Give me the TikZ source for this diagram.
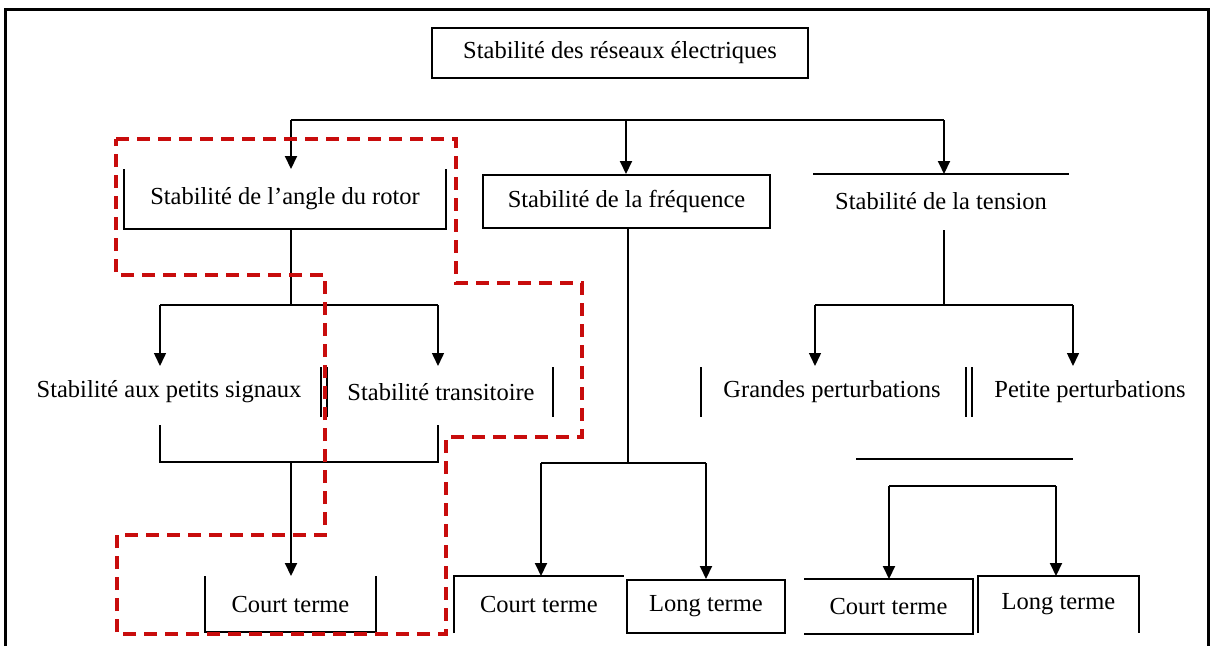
\documentclass[tikz,border=0pt]{standalone}
\usepackage{fontspec}
\setmainfont{Liberation Serif}
\usetikzlibrary{arrows.meta}
\definecolor{zonered}{RGB}{200,12,12}
\begin{document}
\begin{tikzpicture}[x=1pt,y=-1pt,line width=2pt,
  txt/.style={font=\fontsize{24.5}{28}\selectfont},
  box/.style={rectangle,inner sep=0pt,txt},
  lab/.style={rectangle,inner sep=0pt,minimum height=50pt,txt},
  arr/.style={-{Triangle[width=12pt,length=13pt]}},
  thinarr/.style={line width=1.5pt,-{Triangle[width=12pt,length=13pt]}},
  zone/.style={draw=zonered,line width=3.5pt,dash pattern=on 13pt off 8pt}]
\useasboundingbox (0,0) rectangle (1213,646);
\fill[white] (0,0) rectangle (1213,646);

% outer frame, open at the bottom
\draw[line width=3pt] (5,646) -- (5,9) -- (1208,9) -- (1208,646);

% level 0
\node[box,draw,line width=2.5pt,minimum width=376,minimum height=50] (top) at (620,53) {Stabilité des réseaux électriques};

% level 1
\node[box,minimum width=320,minimum height=58] (angle) at (285,199) {Stabilité de l'angle du rotor};
\draw (angle.north west) -- (angle.south west) -- (angle.south east) -- (angle.north east);
\node[box,draw,minimum width=287,minimum height=53] (freq) at (626.5,201.5) {Stabilité de la fréquence};
\node[box,minimum width=254,minimum height=52] (tension) at (941,201) {Stabilité de la tension};
\draw (tension.north west) -- (tension.north east);

% level 2
\node[lab] (petits) at (169,392) {Stabilité aux petits signaux};
\node[lab] (trans) at (441,392) {Stabilité transitoire};
\node[lab] (grandes) at (832,392) {Grandes perturbations};
\node[lab] (petite) at (1090,392) {Petite perturbations};
\draw (320.5,367) -- (320.5,417);
\draw (327,367) -- (327,417);
\draw (553,367) -- (553,417);
\draw (701,367) -- (701,417);
\draw (966,367) -- (966,417);
\draw (972,367) -- (972,417);

% level 3
\node[box,minimum width=169,minimum height=54] (ct1) at (290.5,604) {Court terme};
\draw (ct1.north west) -- (ct1.south west) -- (ct1.south east) -- (ct1.north east);
\node[box,minimum width=168,minimum height=55] (ct2) at (539,604.5) {Court terme};
\draw (ct2.south west) -- (ct2.north west) -- (ct2.north east);
\node[box,draw,minimum width=158,minimum height=53] (lt2) at (706,606.5) {Long terme};
\node[box,minimum width=167,minimum height=53] (ct3) at (888.5,606.5) {Court terme};
\draw (ct3.north west) -- (ct3.north east) -- (ct3.south east) -- (ct3.south west);
\node[box,minimum width=159,minimum height=55] (lt3) at (1058.5,604.5) {Long terme};
\draw (lt3.south west) -- (lt3.north west) -- (lt3.north east) -- (lt3.south east);

% top bus
\coordinate (busL) at (291,120);
\coordinate (busM) at (626,120);
\coordinate (busR) at (944,120);
\draw (busL) -- (busR);
\draw[arr] (busL) -- (busL |- angle.north);
\draw[arr] (busM) -- (busM |- freq.north);
\draw[arr] (busR) -- (busR |- tension.north);

% rotor angle branch
\coordinate (aF) at (291,305);
\coordinate (aL) at (160,305);
\coordinate (aR) at (438,305);
\draw (busL |- angle.south) -- (aF);
\draw (aL) -- (aR);
\draw[thinarr] (aL) -- (aL |- petits.north);
\draw[thinarr] (aR) -- (aR |- trans.north);
\coordinate (pL) at (160,425);
\coordinate (pR) at (438,425);
\coordinate (mL) at (160,462);
\coordinate (mR) at (438,462);
\coordinate (mM) at (291,462);
\draw (pL) -- (mL) -- (mR) -- (pR);
\draw[arr] (mM) -- (mM |- ct1.north);

% frequency branch
\coordinate (fF) at (628,463);
\coordinate (fL) at (541,463);
\coordinate (fR) at (706,463);
\draw (fF |- freq.south) -- (fF);
\draw (fL) -- (fR);
\draw[arr] (fL) -- (fL |- ct2.north);
\draw[arr] (fR) -- (fR |- lt2.north);

% voltage branch
\coordinate (tT) at (944,230);
\coordinate (tF) at (944,305);
\coordinate (tL) at (815,305);
\coordinate (tR) at (1073,305);
\draw (tT) -- (tF);
\draw (tL) -- (tR);
\draw[thinarr] (tL) -- (tL |- grandes.north);
\draw[thinarr] (tR) -- (tR |- petite.north);
\coordinate (sL) at (856,459);
\coordinate (sR) at (1073,459);
\draw (sL) -- (sR);
\coordinate (bL) at (889,486);
\coordinate (bR) at (1056,486);
\draw (bL) -- (bR);
\draw[arr] (bL) -- (bL |- ct3.north);
\draw[arr] (bR) -- (bR |- lt3.north);

% highlighted zone
\draw[zone] (116,139) -- (456,139) -- (456,283) -- (582,283) -- (582,437) -- (446,437)
  -- (446,634) -- (117,634) -- (117,535) -- (325,535) -- (325,275) -- (116,275) -- cycle;
\end{tikzpicture}
\end{document}
